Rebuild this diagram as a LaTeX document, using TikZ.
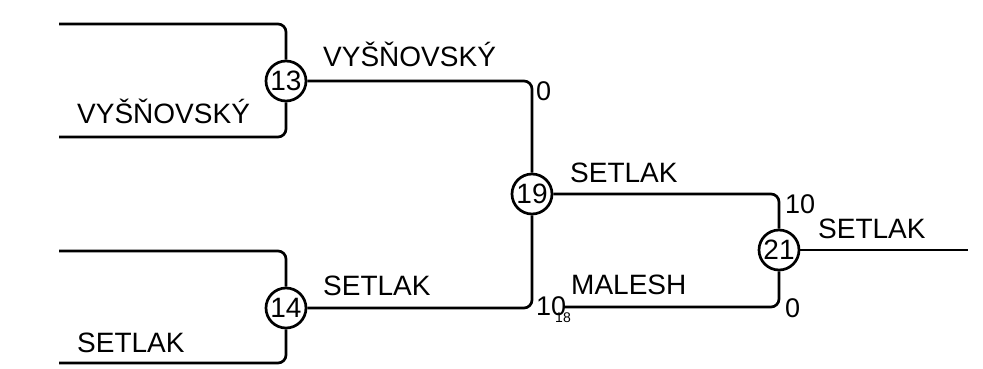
\documentclass[tikz,border=0pt]{standalone}
\usepackage{fontspec}
\setmainfont{Liberation Sans}
\usetikzlibrary{positioning}

\begin{document}
\begin{tikzpicture}[x=1pt, y=-1pt]
 \tikzstyle{zapas}=[circle, draw, line width=2.7pt, minimum size=40pt, inner sep=0pt, font=\fontsize{28}{32}\selectfont]
 \tikzstyle{jmeno}=[anchor=base west, inner sep=0pt, font=\fontsize{28}{32}\selectfont]
 \tikzstyle{skore}=[anchor=base west, inner sep=0pt, font=\fontsize{27}{32}\selectfont]
 \tikzstyle{pavouk}=[line width=2.7pt, rounded corners=8pt]
 \useasboundingbox (0,0) rectangle (983,368);
 %
 \node[zapas] (m13) at (286, 81) {13};
 \node[zapas] (m14) at (286, 308) {14};
 \node[zapas] (m19) at (532, 194) {19};
 \node[zapas] (m21) at (779, 250) {21};
 %
 \coordinate (t13) at (59, 24);
 \coordinate (b13) at (59, 137);
 \coordinate (t14) at (59, 251);
 \coordinate (b14) at (59, 363);
 \coordinate (z18) at (563, 307);
 \coordinate (vitez) at (968, 250);
 \node[inner sep=0pt, font=\fontsize{14}{16}\selectfont] (n18) at (563, 318) {18};
 %
 \node[jmeno] (j13) at (77, 123) {VYŠŇOVSKÝ};
 \node[jmeno] (j14) at (77, 352) {SETLAK};
 \node[jmeno] (v13) at (323, 66) {VYŠŇOVSKÝ};
 \node[jmeno] (v14) at (323, 295) {SETLAK};
 \node[jmeno] (v19) at (570, 182) {SETLAK};
 \node[jmeno] (v18) at (571, 294) {MALESH};
 \node[jmeno] (v21) at (818, 238) {SETLAK};
 %
 \node[skore] (s13) at (536, 100) {0};
 \node[skore] (s14) at (536, 315) {10};
 \node[skore] (s19) at (785, 213) {10};
 \node[skore] (s18) at (785, 317) {0};
 %%
 \draw[pavouk] (t13) -| (m13);
 \draw[pavouk] (b13) -| (m13);
 \draw[pavouk] (t14) -| (m14);
 \draw[pavouk] (b14) -| (m14);
 \draw[pavouk] (m13) -| (m19);
 \draw[pavouk] (m14) -| (m19);
 \draw[pavouk] (m19) -| (m21);
 \draw[pavouk] (z18) -| (m21);
 \draw[pavouk] (m21) -- (vitez);
\end{tikzpicture}
\end{document}
